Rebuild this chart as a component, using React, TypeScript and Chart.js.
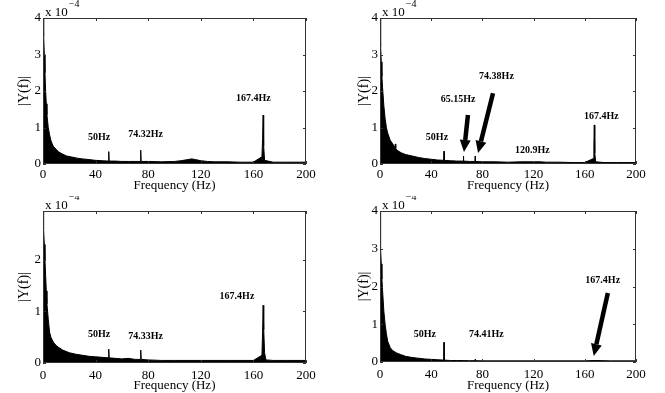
import React, { useEffect, useRef } from "react";
import { Chart, registerables } from "chart.js";

Chart.register(...registerables);

// Values are in units of 1e-4 (axis note "x 10^-4")
const xTicks = [0, 40, 80, 120, 160, 200];
const yTicksFull = [0, 1, 2, 3, 4];
const yTicksShort = [0, 1, 2];

// Top-left spectrum (upper envelope of |Y(f)|)
const tlFreq = [0, 0.3, 0.7, 1, 1.5, 2, 2.5, 3, 4, 5, 6, 7, 8, 10, 12, 15, 18, 22, 26, 30, 35, 40, 45, 49.7, 50, 50.3, 55, 60, 65, 70, 74, 74.32, 74.6, 80, 90, 100, 105, 110, 113, 116, 120, 125, 130, 140, 150, 160, 166.5, 167, 167.4, 167.8, 168.5, 175, 185, 195, 200];
const tlAmp = [4.0, 3.9, 3.5, 3.0, 2.5, 2.0, 1.65, 1.35, 1.0, 0.8, 0.65, 0.55, 0.48, 0.4, 0.33, 0.27, 0.22, 0.19, 0.16, 0.14, 0.12, 0.1, 0.09, 0.08, 0.34, 0.08, 0.08, 0.07, 0.07, 0.07, 0.07, 0.38, 0.07, 0.07, 0.06, 0.07, 0.09, 0.12, 0.14, 0.12, 0.09, 0.07, 0.06, 0.06, 0.05, 0.05, 0.2, 0.7, 1.34, 0.5, 0.1, 0.05, 0.05, 0.05, 0.05];
const tlLabels = ["50Hz", "74.32Hz", "167.4Hz"];
const tlLabelX = [42.6, 78, 160];
const tlLabelY = [0.74, 0.82, 1.8];

// Top-right spectrum
const trFreq = [0, 0.3, 0.7, 1, 1.5, 2, 3, 4, 5, 6, 8, 10, 11.7, 12, 12.3, 14, 17, 20, 25, 30, 35, 40, 45, 49.7, 50, 50.3, 55, 60, 64.9, 65.15, 65.4, 70, 74.1, 74.38, 74.6, 80, 90, 100, 110, 120, 125, 130, 140, 150, 160, 166.7, 167.1, 167.4, 167.8, 168.5, 175, 185, 200];
const trAmp = [4.0, 3.7, 3.2, 2.8, 2.4, 2.1, 1.6, 1.25, 1.0, 0.85, 0.65, 0.55, 0.45, 0.55, 0.42, 0.36, 0.3, 0.26, 0.22, 0.18, 0.15, 0.13, 0.11, 0.1, 0.35, 0.1, 0.09, 0.08, 0.08, 0.22, 0.08, 0.07, 0.07, 0.22, 0.07, 0.06, 0.06, 0.05, 0.06, 0.06, 0.06, 0.05, 0.05, 0.04, 0.04, 0.15, 0.5, 1.07, 0.3, 0.06, 0.04, 0.04, 0.04];
const trLabels = ["74.38Hz", "65.15Hz", "50Hz", "120.9Hz", "167.4Hz"];
const trLabelX = [91, 61, 44.5, 119, 173];
const trLabelY = [2.41, 1.78, 0.74, 0.38, 1.31];
const trArrowFromX = [68.7, 88.3];
const trArrowFromY = [1.34, 1.94];
const trArrowToX = [65.6, 76.6];
const trArrowToY = [0.33, 0.3];

// Bottom-left spectrum
const blFreq = [0, 0.3, 0.6, 1, 1.5, 2, 2.5, 3, 4, 5, 6, 8, 10, 12, 15, 20, 25, 30, 35, 40, 45, 49.7, 50, 50.3, 55, 60, 65, 70, 74, 74.33, 74.7, 80, 90, 100, 120, 140, 160, 166.5, 167, 167.4, 167.7, 168, 168.5, 169.5, 175, 185, 200];
const blAmp = [2.95, 2.9, 2.6, 2.3, 2.0, 1.7, 1.4, 1.15, 0.85, 0.6, 0.5, 0.4, 0.34, 0.3, 0.25, 0.2, 0.17, 0.15, 0.13, 0.12, 0.11, 0.1, 0.27, 0.1, 0.09, 0.08, 0.09, 0.07, 0.07, 0.25, 0.07, 0.06, 0.05, 0.05, 0.05, 0.05, 0.05, 0.15, 0.6, 1.12, 0.9, 0.65, 0.2, 0.06, 0.05, 0.05, 0.05];
const blLabels = ["50Hz", "74.33Hz", "167.4Hz"];
const blLabelX = [42.6, 78, 147.5];
const blLabelY = [0.55, 0.51, 1.29];

// Bottom-right spectrum
const brFreq = [0, 0.3, 0.6, 1, 1.5, 2, 3, 4, 5, 6, 8, 10, 13, 16, 20, 25, 30, 35, 40, 45, 49.8, 50, 50.2, 55, 60, 70, 74.2, 74.41, 74.6, 80, 100, 120, 140, 160, 167.4, 180, 200];
const brAmp = [4.0, 3.6, 3.0, 2.6, 2.2, 1.9, 1.35, 1.0, 0.75, 0.55, 0.38, 0.3, 0.24, 0.2, 0.15, 0.12, 0.1, 0.08, 0.07, 0.06, 0.05, 0.52, 0.05, 0.04, 0.04, 0.035, 0.035, 0.07, 0.035, 0.03, 0.03, 0.03, 0.03, 0.03, 0.04, 0.03, 0.03];
const brLabels = ["50Hz", "74.41Hz", "167.4Hz"];
const brLabelX = [35, 83, 174];
const brLabelY = [0.72, 0.72, 2.15];
const brArrowFromX = [178];
const brArrowFromY = [1.83];
const brArrowToX = [167];
const brArrowToY = [0.16];

const SERIF = "'Liberation Serif', 'Times New Roman', serif";

type PanelProps = {
  freq: number[];
  amp: number[];
  yMax: number;
  yTicks: number[];
  labels: string[];
  labelX: number[];
  labelY: number[];
  arrowFromX?: number[];
  arrowFromY?: number[];
  arrowToX?: number[];
  arrowToY?: number[];
  left: number;
  top: number;
  width: number;
  height: number;
  yAxisWidth: number;
  padRight: number;
  padTop: number;
  xAxisHeight: number;
  yTitlePad: number;
  xTickPad: number;
  xTitlePad: number;
};

function Panel(p: PanelProps) {
  const ref = useRef<HTMLCanvasElement | null>(null);
  useEffect(() => {
    if (!ref.current) return;
    const deco = {
      id: "deco",
      afterDatasetsDraw(chart: any) {
        const { ctx, chartArea: a, scales } = chart;
        const xs = scales.x;
        const ys = scales.y;
        ctx.save();
        // box
        ctx.strokeStyle = "#333";
        ctx.lineWidth = 1;
        ctx.strokeRect(a.left + 0.5, a.top + 0.5, a.right - a.left - 1, a.bottom - a.top - 1);
        // inward ticks
        const tl = 3;
        ctx.beginPath();
        xTicks.forEach((v) => {
          const px = Math.round(xs.getPixelForValue(v)) + 0.5;
          ctx.moveTo(px, a.bottom);
          ctx.lineTo(px, a.bottom - tl);
          ctx.moveTo(px, a.top);
          ctx.lineTo(px, a.top + tl);
        });
        p.yTicks.forEach((v) => {
          const py = Math.round(ys.getPixelForValue(v)) + 0.5;
          ctx.moveTo(a.left, py);
          ctx.lineTo(a.left + tl, py);
          ctx.moveTo(a.right, py);
          ctx.lineTo(a.right - tl, py);
        });
        ctx.stroke();
        // scale note
        ctx.fillStyle = "#000";
        ctx.textAlign = "left";
        ctx.textBaseline = "middle";
        ctx.font = `13px ${SERIF}`;
        const base = "x 10";
        ctx.fillText(base, a.left + 2, a.top - 5);
        const w = ctx.measureText(base).width;
        ctx.font = `10px ${SERIF}`;
        ctx.fillText("\u22124", a.left + 3 + w, a.top - 14);
        // labels
        ctx.font = `bold 10px ${SERIF}`;
        ctx.textAlign = "center";
        p.labels.forEach((t, i) => {
          ctx.fillText(t, xs.getPixelForValue(p.labelX[i]), ys.getPixelForValue(p.labelY[i]));
        });
        // arrows
        (p.arrowFromX || []).forEach((fx, i) => {
          const x1 = xs.getPixelForValue(fx);
          const y1 = ys.getPixelForValue(p.arrowFromY![i]);
          const x2 = xs.getPixelForValue(p.arrowToX![i]);
          const y2 = ys.getPixelForValue(p.arrowToY![i]);
          const ang = Math.atan2(y2 - y1, x2 - x1);
          const headLen = 12;
          const headW = 5.5;
          const bx = x2 - headLen * Math.cos(ang);
          const by = y2 - headLen * Math.sin(ang);
          ctx.strokeStyle = "#000";
          ctx.lineWidth = 4.5;
          ctx.beginPath();
          ctx.moveTo(x1, y1);
          ctx.lineTo(bx, by);
          ctx.stroke();
          ctx.beginPath();
          ctx.moveTo(x2, y2);
          ctx.lineTo(bx + headW * Math.sin(ang), by - headW * Math.cos(ang));
          ctx.lineTo(bx - headW * Math.sin(ang), by + headW * Math.cos(ang));
          ctx.closePath();
          ctx.fill();
        });
        ctx.restore();
      },
    };
    const chart = new Chart(ref.current, {
      type: "line",
      data: {
        datasets: [
          {
            data: p.freq.map((f, i) => ({ x: f, y: p.amp[i] })),
            borderColor: "#000",
            backgroundColor: "#000",
            borderWidth: 1,
            pointRadius: 0,
            tension: 0,
            fill: "origin",
          },
        ],
      },
      options: {
        responsive: false,
        animation: false,
        devicePixelRatio: 1,
        layout: { padding: { left: 0, right: p.padRight, top: p.padTop, bottom: 0 } },
        plugins: { legend: { display: false }, tooltip: { enabled: false } },
        scales: {
          x: {
            type: "linear",
            min: 0,
            max: 200,
            afterBuildTicks: (s: any) => {
              s.ticks = xTicks.map((v) => ({ value: v }));
            },
            afterFit: (s: any) => {
              s.height = p.xAxisHeight;
            },
            grid: { display: false, drawTicks: false },
            border: { display: false },
            ticks: { color: "#000", font: { family: SERIF, size: 13 }, padding: p.xTickPad, maxRotation: 0 },
            title: {
              display: true,
              text: "Frequency (Hz)",
              color: "#000",
              font: { family: SERIF, size: 13 },
              padding: { top: 0, bottom: p.xTitlePad },
            },
          },
          y: {
            type: "linear",
            min: 0,
            max: p.yMax,
            afterBuildTicks: (s: any) => {
              s.ticks = p.yTicks.map((v) => ({ value: v }));
            },
            afterFit: (s: any) => {
              s.width = p.yAxisWidth;
            },
            grid: { display: false, drawTicks: false },
            border: { display: false },
            ticks: { color: "#000", font: { family: SERIF, size: 13 }, padding: 2 },
            title: {
              display: true,
              text: "|Y(f)|",
              color: "#000",
              font: { family: SERIF, size: 14 },
              padding: { top: p.yTitlePad, bottom: 0 },
            },
          },
        },
      },
      plugins: [deco],
    } as any);
    return () => chart.destroy();
  }, []);
  return (
    <canvas
      ref={ref}
      width={p.width}
      height={p.height}
      style={{ position: "absolute", left: p.left, top: p.top, width: p.width, height: p.height }}
    />
  );
}

export default function App() {
  return (
    <div style={{ position: "absolute", left: 0, top: 0, width: 665, height: 393, background: "#fff", overflow: "hidden" }}>
      <Panel
        freq={tlFreq} amp={tlAmp} yMax={4} yTicks={yTicksFull}
        labels={tlLabels} labelX={tlLabelX} labelY={tlLabelY}
        left={0} top={0} width={332} height={196}
        yAxisWidth={43} padRight={26} padTop={18} xAxisHeight={32} yTitlePad={16}
        xTickPad={3} xTitlePad={3}
      />
      <Panel
        freq={trFreq} amp={trAmp} yMax={4} yTicks={yTicksFull}
        labels={trLabels} labelX={trLabelX} labelY={trLabelY}
        arrowFromX={trArrowFromX} arrowFromY={trArrowFromY} arrowToX={trArrowToX} arrowToY={trArrowToY}
        left={332} top={0} width={333} height={196}
        yAxisWidth={48} padRight={29} padTop={18} xAxisHeight={32} yTitlePad={24}
        xTickPad={3} xTitlePad={3}
      />
      <Panel
        freq={blFreq} amp={blAmp} yMax={2.95} yTicks={yTicksShort}
        labels={blLabels} labelX={blLabelX} labelY={blLabelY}
        left={0} top={196} width={332} height={197}
        yAxisWidth={43} padRight={26} padTop={15} xAxisHeight={30} yTitlePad={16}
        xTickPad={5} xTitlePad={0}
      />
      <Panel
        freq={brFreq} amp={brAmp} yMax={4} yTicks={yTicksFull}
        labels={brLabels} labelX={brLabelX} labelY={brLabelY}
        arrowFromX={brArrowFromX} arrowFromY={brArrowFromY} arrowToX={brArrowToX} arrowToY={brArrowToY}
        left={332} top={196} width={333} height={197}
        yAxisWidth={48} padRight={29} padTop={15} xAxisHeight={31} yTitlePad={24}
        xTickPad={5} xTitlePad={0}
      />
    </div>
  );
}
